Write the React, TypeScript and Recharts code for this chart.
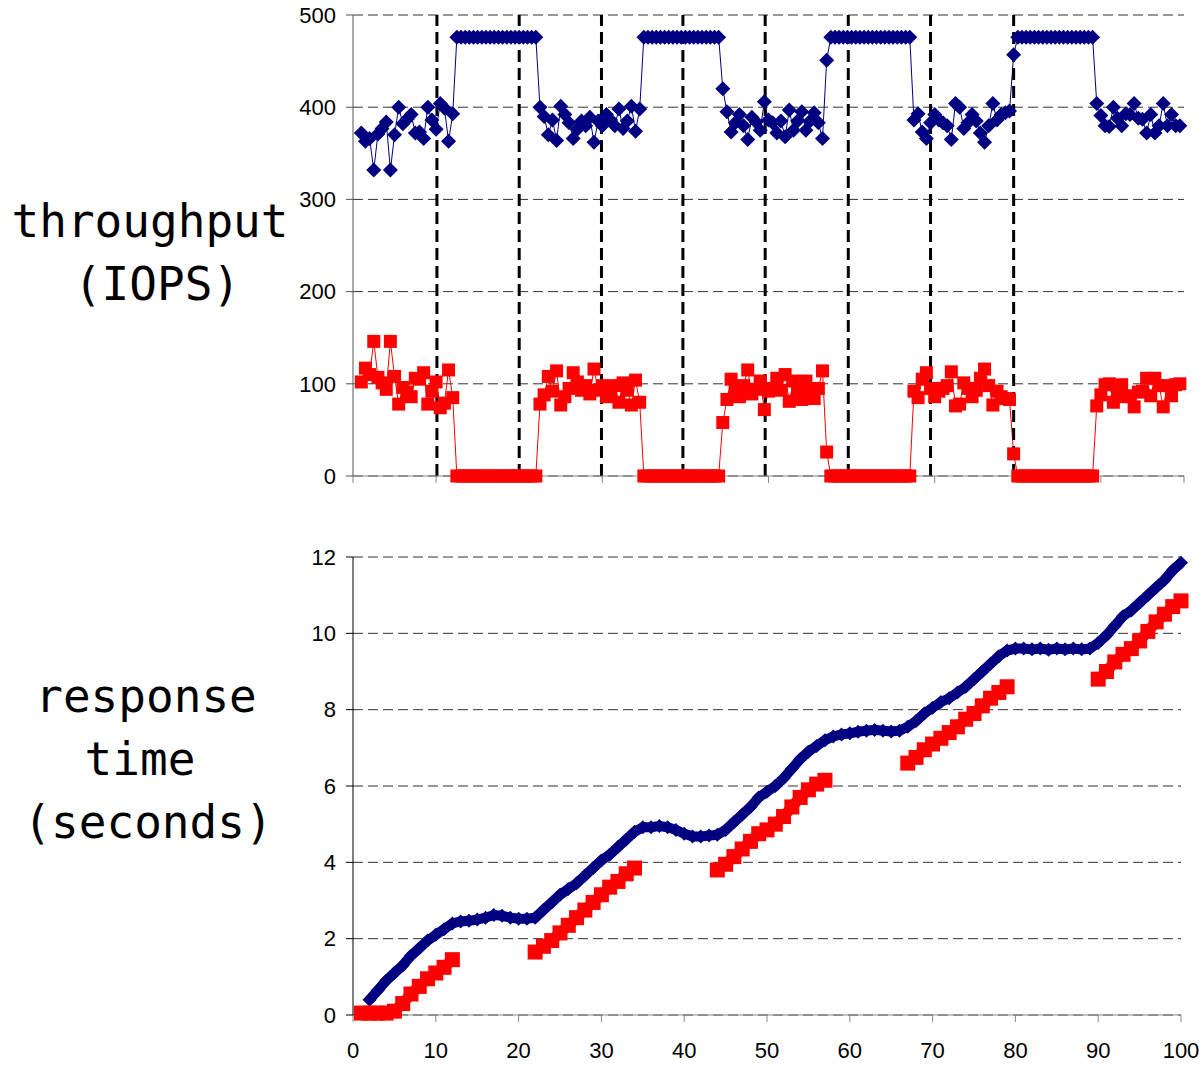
import { Line, LineChart, XAxis, YAxis, CartesianGrid, ReferenceLine } from 'recharts';

// throughput samples, every 0.5 s starting at t = 1
const T0 = 1;
const DT = 0.5;

const blueIops = [
  372, 363, 366, 332, 371, 377, 384, 332, 370, 400, 382, 387, 392, 372, 373, 366, 400, 386, 376, 404, 399, 363, 393,
  476, 476, 476, 476, 476, 476, 476, 476, 476, 476,
  476, 476, 476, 476, 476, 476, 476, 476, 476, 476,
  400, 390, 370, 386, 364, 401, 392, 383, 366, 376, 385, 380, 389, 362, 385, 380, 392, 386, 380, 398, 377, 385, 401, 374, 398,
  476, 476, 476, 476, 476, 476, 476, 476, 476, 476,
  476, 476, 476, 476, 476, 476, 476, 476, 476,
  420,
  395, 373, 383, 392, 380, 365, 389, 384, 375, 406, 386, 383, 372, 385, 368, 397, 375, 385, 395, 375, 385, 394, 383, 366,
  451,
  476, 476, 476, 476, 476, 476, 476, 476, 476, 476,
  476, 476, 476, 476, 476, 476, 476, 476, 476, 476,
  386, 393, 373, 366, 383, 392, 386, 383, 380, 365, 404, 400, 377, 383, 392, 385, 372, 362, 380, 404, 386, 392, 394, 396,
  457,
  476, 476, 476, 476, 476, 476, 476, 476, 476, 476,
  476, 476, 476, 476, 476, 476, 476, 476, 476,
  404, 391, 380, 379, 400, 388, 380, 393, 392, 404, 388, 387, 372, 392, 372, 380, 404, 380, 392, 380, 380,
];

const redIops = [
  102, 117, 110, 146, 107, 101, 94, 146, 108, 78, 96, 91, 86, 106, 105, 112, 78, 92, 102, 74, 79, 115, 85,
  0, 0, 0, 0, 0, 0, 0, 0, 0, 0,
  0, 0, 0, 0, 0, 0, 0, 0, 0, 0,
  78, 88, 108, 92, 114, 77, 86, 95, 112, 102, 93, 98, 89, 116, 93, 98, 86, 92, 98, 80, 101, 93, 77, 104, 80,
  0, 0, 0, 0, 0, 0, 0, 0, 0, 0,
  0, 0, 0, 0, 0, 0, 0, 0, 0,
  58,
  83, 105, 95, 86, 98, 115, 89, 94, 103, 72, 92, 95, 106, 93, 110, 81, 103, 93, 83, 103, 93, 84, 95, 114,
  26,
  0, 0, 0, 0, 0, 0, 0, 0, 0, 0,
  0, 0, 0, 0, 0, 0, 0, 0, 0, 0,
  92, 85, 105, 112, 95, 86, 92, 95, 98, 113, 76, 78, 101, 95, 86, 93, 106, 116, 98, 77, 92, 86, 84, 83,
  24,
  0, 0, 0, 0, 0, 0, 0, 0, 0, 0,
  0, 0, 0, 0, 0, 0, 0, 0, 0,
  76, 88, 99, 100, 80, 91, 99, 86, 87, 75, 91, 92, 106, 87, 106, 98, 75, 98, 87, 99, 100,
];

// phase boundaries (dashed verticals)
const phaseMarks = [10.1, 20, 29.9, 39.7, 49.6, 59.6, 69.5, 79.5];

// response time, one sample per second, t = 1..100
const blueRt = [
  null, 0.4, 0.65, 0.9, 1.1, 1.3, 1.55, 1.75, 1.95, 2.1,
  2.25, 2.4, 2.45, 2.47, 2.5, 2.55, 2.62, 2.6, 2.55, 2.52,
  2.52, 2.55, 2.75, 2.95, 3.15, 3.3, 3.45, 3.65, 3.85, 4.05,
  4.2, 4.4, 4.6, 4.8, 4.92, 4.92, 4.95, 4.92, 4.85, 4.75,
  4.68, 4.68, 4.7, 4.72, 4.85, 5.05, 5.25, 5.45, 5.7, 5.85,
  6.0, 6.2, 6.45, 6.7, 6.9, 7.05, 7.2, 7.3, 7.35, 7.38,
  7.42, 7.45, 7.47, 7.45, 7.43, 7.45, 7.55, 7.7, 7.9, 8.05,
  8.2, 8.3, 8.45, 8.6, 8.8, 9.0, 9.2, 9.4, 9.55, 9.6,
  9.6, 9.58, 9.6, 9.57, 9.6, 9.58, 9.6, 9.58, 9.6, 9.75,
  9.95, 10.2, 10.45, 10.6, 10.8, 11.0, 11.2, 11.4, 11.65, 11.85,
];

const redRt = [
  0.05, 0.05, 0.05, 0.05, 0.1, 0.3, 0.55, 0.75, 0.95, 1.1,
  1.25, 1.45, null, null, null, null, null, null, null, null,
  null, 1.65, 1.8, 1.95, 2.15, 2.35, 2.55, 2.75, 2.95, 3.15,
  3.35, 3.5, 3.7, 3.85, null, null, null, null, null, null,
  null, null, null, 3.8, 3.95, 4.15, 4.35, 4.55, 4.75, 4.85,
  5.0, 5.2, 5.45, 5.7, 5.9, 6.05, 6.15, null, null, null,
  null, null, null, null, null, null, 6.6, 6.75, 6.95, 7.1,
  7.25, 7.4, 7.55, 7.75, 7.9, 8.1, 8.3, 8.45, 8.6, null,
  null, null, null, null, null, null, null, null, null, 8.8,
  9.0, 9.25, 9.45, 9.6, 9.8, 10.05, 10.3, 10.5, 10.7, 10.85,
];

const xTicks = [0, 10, 20, 30, 40, 50, 60, 70, 80, 90, 100];
const iopsTicks = [0, 100, 200, 300, 400, 500];
const rtTicks = [0, 2, 4, 6, 8, 10, 12];

const iopsData = blueIops.map((b, i) => ({ t: T0 + i * DT, blue: b, red: redIops[i] }));
const rtData = blueRt.map((b, i) => ({ t: i + 1, blue: b, red: redRt[i] }));

const NAVY = '#000080';
const RED = '#ff0000';
const tickFont = { fontSize: 22, fill: '#000', fontFamily: '"Liberation Sans", Arial, sans-serif' };
const labelFont = '"DejaVu Sans Mono", monospace';

function diamond(size: number, color: string) {
  return (props: any) => {
    const { cx, cy, index, value } = props;
    if (cx == null || cy == null || value == null) return <g key={`d${index}`} />;
    const r = size / 2;
    return (
      <path key={`d${index}`} d={`M${cx},${cy - r}L${cx + r},${cy}L${cx},${cy + r}L${cx - r},${cy}Z`} fill={color} />
    );
  };
}

function square(size: number, color: string) {
  return (props: any) => {
    const { cx, cy, index, value } = props;
    if (cx == null || cy == null || value == null) return <g key={`s${index}`} />;
    const r = size / 2;
    return <rect key={`s${index}`} x={cx - r} y={cy - r} width={size} height={size} fill={color} />;
  };
}

export default function App() {
  return (
    <div style={{ position: 'absolute', left: 0, top: 0, width: 1201, height: 1066, background: '#fff' }}>
      <svg width={1201} height={1066} style={{ position: 'absolute', left: 0, top: 0 }}>
        <g fontFamily={labelFont} fontSize={46} fill="#000" textAnchor="middle">
          <text x={150} y={237}>throughput</text>
          <text x={157} y={300}>(IOPS)</text>
          <text x={146} y={712}>response</text>
          <text x={140} y={775}>time</text>
          <text x={148} y={838}>(seconds)</text>
        </g>
      </svg>

      <div style={{ position: 'absolute', left: 0, top: 0 }}>
        <LineChart width={1201} height={500} data={iopsData} margin={{ top: 15, right: 17, left: 293, bottom: 4 }}>
          <CartesianGrid vertical={false} stroke="#333" strokeDasharray="10 5" />
          <XAxis
            dataKey="t"
            type="number"
            domain={[0, 100]}
            ticks={xTicks}
            tickFormatter={() => ''}
            tickSize={7}
            height={20}
            stroke="#888"
          />
          <YAxis
            domain={[0, 500]}
            ticks={iopsTicks}
            tickSize={7}
            tickMargin={10}
            width={60}
            stroke="#555"
            tick={tickFont}
          />
          <Line
            dataKey="blue"
            stroke={NAVY}
            strokeWidth={1}
            dot={diamond(15, NAVY)}
            isAnimationActive={false}
          />
          <Line
            dataKey="red"
            stroke={RED}
            strokeWidth={1}
            dot={square(13, RED)}
            isAnimationActive={false}
          />
          {phaseMarks.map((x) => (
            <ReferenceLine key={x} x={x} stroke="#000" strokeWidth={3} strokeDasharray="12 6" />
          ))}
        </LineChart>
      </div>

      <div style={{ position: 'absolute', left: 0, top: 520 }}>
        <LineChart width={1201} height={546} data={rtData} margin={{ top: 37, right: 20, left: 293, bottom: 1 }}>
          <CartesianGrid vertical={false} stroke="#333" strokeDasharray="10 5" />
          <XAxis
            dataKey="t"
            type="number"
            domain={[0, 100]}
            ticks={xTicks}
            tickSize={7}
            tickMargin={20}
            height={50}
            stroke="#888"
            tick={tickFont}
          />
          <YAxis
            domain={[0, 12]}
            ticks={rtTicks}
            tickSize={7}
            tickMargin={10}
            width={60}
            stroke="#000"
            tick={tickFont}
          />
          <Line
            dataKey="blue"
            stroke={NAVY}
            strokeWidth={10}
            dot={diamond(14, NAVY)}
            isAnimationActive={false}
          />
          <Line
            dataKey="red"
            stroke={RED}
            strokeWidth={11}
            strokeLinecap="butt"
            dot={square(15, RED)}
            isAnimationActive={false}
          />
        </LineChart>
      </div>
    </div>
  );
}
